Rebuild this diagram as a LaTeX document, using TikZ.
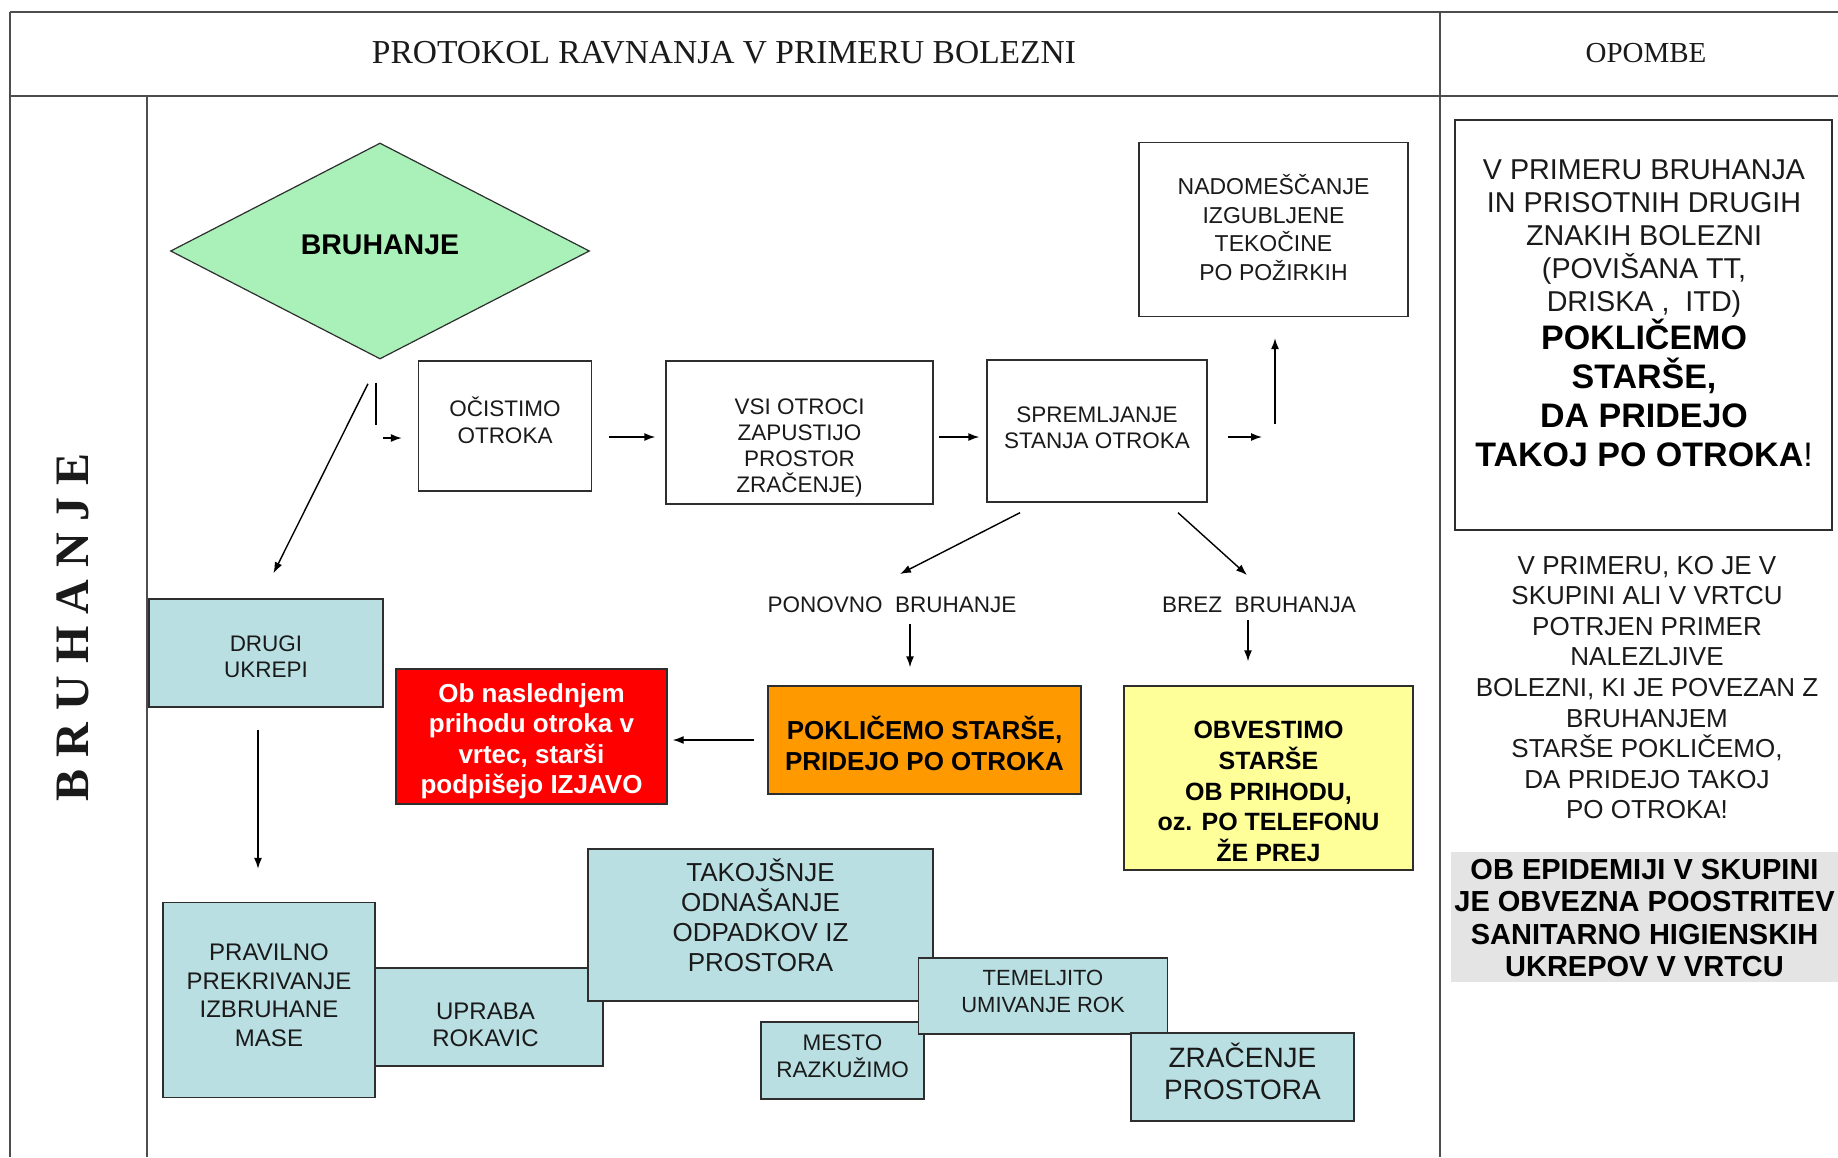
\documentclass[tikz,border=0pt]{standalone}
\usepackage{fontspec}
\setmainfont{Liberation Sans}
\newfontfamily\serifhead{Liberation Serif}
\usetikzlibrary{shapes.geometric,arrows.meta,calc}

\definecolor{tealfill}{HTML}{B9DFE3}
\definecolor{diafill}{HTML}{A9F1B9}
\definecolor{orangefill}{HTML}{FF9900}
\definecolor{redfill}{HTML}{FF0000}
\definecolor{yellowfill}{HTML}{FFFF99}
\definecolor{grayfill}{HTML}{E4E4E4}
\definecolor{rulec}{HTML}{4D4D4D}
\definecolor{edgec}{HTML}{2E2E2E}
\definecolor{inkc}{HTML}{1A1A1A}

\newcommand\setfs[2]{\fontsize{#1pt}{#2pt}\selectfont}

\begin{document}
\begin{tikzpicture}[x=1pt,y=-1pt,
  box/.style={draw=edgec, line width=1.4pt, rectangle, inner sep=0pt},
  tbox/.style={box, fill=tealfill},
  txt/.style={align=center, text=inkc, inner sep=0pt},
  arr/.style={draw=black, line width=1.4pt, -{Latex[length=11pt,width=8pt]}},
  plain/.style={draw=black, line width=1.4pt},
  rule/.style={draw=rulec, line width=1.3pt},
  thickrule/.style={draw=rulec, line width=2.6pt},
  reg/.style={font=\setfs{22.5}{26}},
]
\useasboundingbox[fill=white] (0,0) rectangle (1838,1157);

% ---- table frame ----
\draw[thickrule] (10,12) -- (1838,12);
\draw[thickrule] (10,96) -- (1838,96);
\draw[rule] (10,12) -- (10,1157);
\draw[rule] (147,96) -- (147,1157);
\draw[rule] (1440,12) -- (1440,1157);

\node[txt, font=\serifhead\setfs{33.5}{40}] (title) at (724,53) {PROTOKOL RAVNANJA V PRIMERU BOLEZNI};
\node[txt, font=\serifhead\setfs{29}{34}] (notes) at (1646,53) {OPOMBE};
\node[txt, rotate=90, font=\serifhead\bfseries\setfs{48}{52}] (side) at (73,627) {B R U H A N J E};

% ---- upper flow ----
\node[draw=edgec, line width=1.2pt, fill=diafill, diamond, aspect=1.94,
      minimum width=419pt, minimum height=216pt, inner sep=0pt] (dia) at (380,251) {};
\node[txt, text=black, font=\bfseries\setfs{28.5}{30}] (dia-t) at (380,245) {BRUHANJE};

\node[box, minimum width=173pt, minimum height=130pt] (oc) at (505,426) {};
\node[txt, font=\setfs{22.5}{27}] (oc-t) at (505,420) {OČISTIMO\\OTROKA};
\node[box, minimum width=267pt, minimum height=143pt] (vsi) at (799.5,432.5) {};
\node[txt, reg] (vsi-t) at (799.5,448) {VSI OTROCI\\ZAPUSTIJO\\PROSTOR\\ZRAČENJE)};
\node[box, minimum width=220pt, minimum height=142pt] (sprem) at (1097,431) {};
\node[txt, reg] (sprem-t) at (1097,427.5) {SPREMLJANJE\\STANJA OTROKA};
\node[box, minimum width=269pt, minimum height=174pt] (nadom) at (1273.5,229.5) {};
\node[txt, font=\setfs{23}{28.5}] (nadom-t) at (1273.5,227.5) {NADOMEŠČANJE\\IZGUBLJENE\\TEKOČINE\\PO POŽIRKIH};

\coordinate (row) at (0,437);
\coordinate (dturn) at (376,438);
\coordinate (uturn) at (1275,437);

\draw[plain, shorten <=23pt, shorten >=13pt] (dia.south -| dturn) -- (dturn);
\draw[arr, shorten <=7pt, shorten >=16pt] (dturn) -- (oc.west |- dturn);
\draw[arr, shorten <=17pt, shorten >=10pt] (oc.east |- row) -- (vsi.west |- row);
\draw[arr, shorten <=5pt, shorten >=7pt] (vsi.east |- row) -- (sprem.west |- row);
\draw[arr, shorten <=20pt, shorten >=13pt] (sprem.east |- uturn) -- (uturn);
\draw[arr, shorten <=13pt, shorten >=21pt] (uturn) -- (nadom.south -| uturn);

% ---- branches after observation ----
\node[txt, reg] (pon) at (892,605) {PONOVNO\ \ BRUHANJE};
\node[txt, reg] (brez) at (1259,605) {BREZ\ \ BRUHANJA};

\node[box, fill=orangefill, minimum width=313pt, minimum height=108pt] (orange) at (924.5,740) {};
\node[txt, text=black, font=\bfseries\setfs{26}{31}] (orange-t) at (924.5,743) {POKLIČEMO STARŠE,\\PRIDEJO PO OTROKA};
\node[box, fill=redfill, minimum width=271pt, minimum height=135pt] (red) at (531.5,736.5) {};
\node[txt, text=white, font=\bfseries\setfs{26}{30.5}] (red-t) at (531.5,741.5) {Ob naslednjem\\prihodu otroka v\\vrtec, starši\\podpišejo IZJAVO};
\node[box, fill=yellowfill, minimum width=289pt, minimum height=184pt] (yellow) at (1268.5,778) {};
\node[txt, text=black, font=\bfseries\setfs{25}{30.8}] (yellow-t) at (1268.5,791.5) {OBVESTIMO\\STARŠE\\OB PRIHODU,\\oz. PO TELEFONU\\ŽE PREJ};

\draw[arr] ($(sprem.south)+(-77,10)$) -- ($(pon)+(8,-31)$);
\draw[arr] ($(sprem.south)+(81,10)$) -- ($(brez)+(-12,-30)$);
\draw[arr] ($(pon)+(18,19)$) -- ($(orange.north)+(-14.5,-18)$);
\draw[arr] ($(brez)+(-11,15)$) -- ($(yellow.north)+(-20.5,-24)$);
\draw[arr, shorten <=13pt, shorten >=5pt] (orange.west) -- (red.east |- orange.west);

% ---- other measures ----
\node[tbox, minimum width=234pt, minimum height=108pt] (drugi) at (266,653) {};
\node[txt, reg] (drugi-t) at (266,657) {DRUGI\\UKREPI};
\node[tbox, minimum width=212pt, minimum height=195pt] (pravilno) at (269,1000) {};
\node[txt, font=\setfs{24}{28.5}] (pravilno-t) at (269,995) {PRAVILNO\\PREKRIVANJE\\IZBRUHANE\\MASE};
\node[tbox, minimum width=228pt, minimum height=98pt] (upraba) at (489,1017) {};
\node[txt, font=\setfs{24}{27}] (upraba-t) at (485.5,1025) {UPRABA\\ROKAVIC};
\node[tbox, minimum width=345pt, minimum height=152pt] (takoj) at (760.5,925) {};
\node[txt, font=\setfs{26}{30}] (takoj-t) at (760.5,915.5) {TAKOJŠNJE\\ODNAŠANJE\\ODPADKOV IZ\\PROSTORA};
\node[tbox, minimum width=163pt, minimum height=77pt] (mesto) at (842.5,1060.5) {};
\node[txt, font=\setfs{22.5}{27}] (mesto-t) at (842.5,1056.5) {MESTO\\RAZKUŽIMO};
\node[tbox, minimum width=249pt, minimum height=76pt] (temelj) at (1043,996) {};
\node[txt, font=\setfs{22}{27}] (temelj-t) at (1043,991) {TEMELJITO\\UMIVANJE ROK};
\node[tbox, minimum width=223pt, minimum height=88pt] (zrac) at (1242.5,1077) {};
\node[txt, font=\setfs{28}{32}] (zrac-t) at (1242.5,1071) {ZRAČENJE\\PROSTORA};

\draw[arr, shorten <=27pt, shorten >=28pt] (dia.south) -- ($(drugi.north)+(-5,0)$);
\draw[arr] ($(drugi.south)+(-8,22)$) -- ($(pravilno.north)+(-11,-33)$);

% ---- notes column ----
\node[box, minimum width=377pt, minimum height=410pt] (note1) at (1643.5,325) {};
\node[txt, font=\setfs{28.7}{33}] (note1a) at (1644,239) {V PRIMERU BRUHANJA\\IN PRISOTNIH DRUGIH\\ZNAKIH BOLEZNI\\(POVIŠANA TT,\\DRISKA~, ~ITD)};
\node[txt, text=black, font=\bfseries\setfs{34}{39}] (note1b) at (1644,393) {POKLIČEMO\\STARŠE,\\DA PRIDEJO\\TAKOJ PO OTROKA{\mdseries!}};
\node[txt, font=\setfs{26}{30.6}] (note2) at (1647,687.5) {V PRIMERU, KO JE V\\SKUPINI ALI V VRTCU\\POTRJEN PRIMER\\NALEZLJIVE\\BOLEZNI, KI JE POVEZAN Z\\BRUHANJEM\\STARŠE POKLIČEMO,\\DA PRIDEJO TAKOJ\\PO OTROKA!};
\node[box, draw=none, fill=grayfill, minimum width=387pt, minimum height=130pt] (note3) at (1644.5,917) {};
\node[txt, text=black, font=\bfseries\setfs{29}{32.5}] (note3-t) at (1644.5,918) {OB EPIDEMIJI V SKUPINI\\JE OBVEZNA POOSTRITEV\\SANITARNO HIGIENSKIH\\UKREPOV V VRTCU};
\end{tikzpicture}
\end{document}
